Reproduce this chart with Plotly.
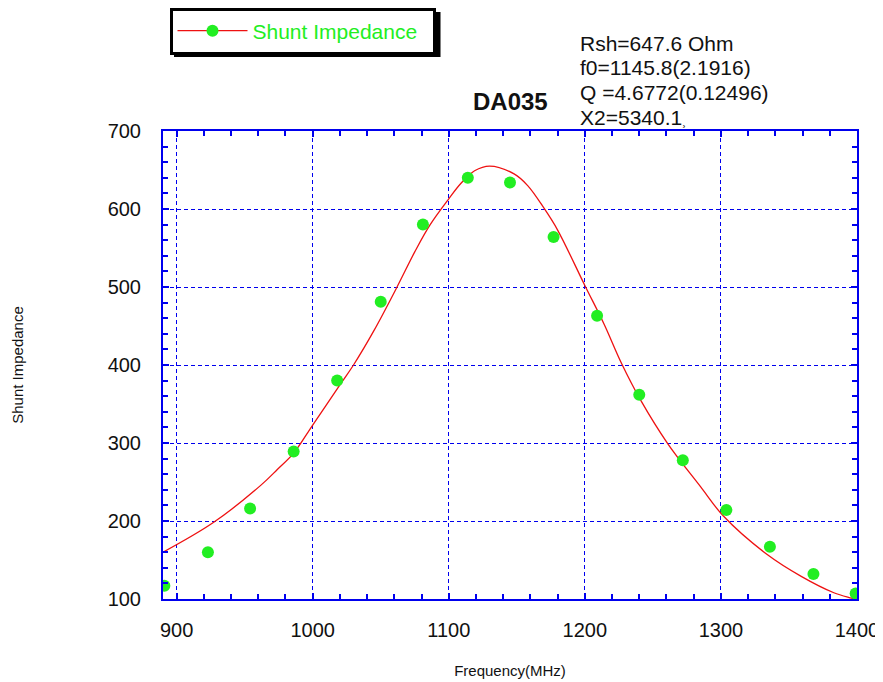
import plotly.graph_objects as go

# measured points
freq_mhz = [891, 923, 954, 986, 1018, 1050, 1081, 1114, 1145, 1177, 1209, 1240, 1272, 1304, 1336, 1368, 1399]
shunt_imp = [117, 160, 216, 289, 380, 481, 580, 640, 634, 564, 463, 362, 278, 214, 167, 132, 107]

# fitted curve
fit_freq = [890, 927, 962, 974, 986, 1000, 1021, 1030, 1045, 1062, 1075, 1086, 1100, 1109, 1119,
            1130, 1148, 1158, 1170, 1180, 1200, 1214, 1227, 1241, 1261, 1285, 1302, 1334, 1359, 1383, 1396, 1400]
fit_imp = [160, 198, 246, 266, 287, 323, 377, 400, 444, 500, 545, 579, 613, 633, 649,
           655, 645, 630, 601, 573, 502, 453, 402, 355, 299, 244, 206, 157, 129, 108, 101, 99]

fit_lines = ["Rsh=647.6 Ohm", "f0=1145.8(2.1916)", "Q =4.6772(0.12496)",
             "X2=5340.1<span style='font-size:11px'>\u00b8</span>"]

GREEN = "#22ee22"
RED = "#ee1111"
BLUE = "#0000ee"
FONT = "Liberation Sans, Arial, sans-serif"

OFF = 8  # page body margin
W, H = 883 - OFF, 682 - OFF
L, R, T, B = 163 - OFF, 857 - OFF, 131 - OFF, 599 - OFF
pw, ph = R - L, B - T


def px(x):
    return (x - OFF - L) / pw


def py(y):
    return (B - (y - OFF)) / ph


fig = go.Figure()
fig.add_trace(go.Scatter(x=fit_freq, y=fit_imp, mode="lines", line=dict(color=RED, width=1.3, shape="spline"),
                         showlegend=False, hoverinfo="skip"))
fig.add_trace(go.Scatter(x=freq_mhz, y=shunt_imp, mode="markers", marker=dict(color=GREEN, size=12),
                         showlegend=False))
fig.add_trace(go.Scatter(x=[None], y=[None], mode="lines+markers", name="Shunt Impedance",
                         line=dict(color=RED, width=1.3), marker=dict(color=GREEN, size=12)))

axis_common = dict(
    showline=True, linecolor=BLUE, linewidth=2, mirror="ticks",
    ticks="inside", ticklen=6, tickcolor=BLUE, tickwidth=1.5,
    showgrid=True, gridcolor=BLUE, gridwidth=1, griddash="4px,3px",
    zeroline=False, tickfont=dict(family=FONT, size=20, color="#111111"),
    minor=dict(ticks="inside", ticklen=5, tickcolor=BLUE, tickwidth=1.5, showgrid=False, dtick=20),
)

fig.update_xaxes(range=[890, 1400], tick0=900, dtick=100, ticklabelstandoff=12,
                 title=dict(text="Frequency(MHz)", font=dict(family=FONT, size=15, color="#111111"), standoff=25),
                 **axis_common)
fig.update_yaxes(range=[100, 700], tick0=100, dtick=100, ticklabelstandoff=16,
                 title=dict(text="Shunt Impedance", font=dict(family=FONT, size=15, color="#111111"), standoff=80),
                 **axis_common)

ann = [dict(text="<b>DA035</b>", x=0.5, y=py(101), xref="paper", yref="paper", showarrow=False,
            font=dict(family=FONT, size=24, color="#111111"), xanchor="center", yanchor="middle")]
for i, t in enumerate(fit_lines):
    ann.append(dict(text=t, x=px(578), y=py(43 + 24.7 * i), xref="paper", yref="paper", showarrow=False,
                    font=dict(family=FONT, size=21, color="#111111"), xanchor="left", yanchor="middle"))

shadow = dict(type="rect", xref="paper", yref="paper", x0=px(174), x1=px(440.5), y0=py(57), y1=py(12),
              fillcolor="black", line=dict(width=0), layer="above")

fig.update_layout(
    width=W, height=H, margin=dict(l=L, r=W - R, t=T, b=H - B, autoexpand=False),
    paper_bgcolor="white", plot_bgcolor="white",
    font=dict(family=FONT, color="#111111"),
    legend=dict(x=px(169.5), y=py(7.5), xanchor="left", yanchor="top", bgcolor="white",
                bordercolor="black", borderwidth=3, font=dict(family=FONT, size=21, color=GREEN),
                itemwidth=70, orientation="h", entrywidth=175),
    annotations=ann, shapes=[shadow],
)

fig.write_html("out.html")
